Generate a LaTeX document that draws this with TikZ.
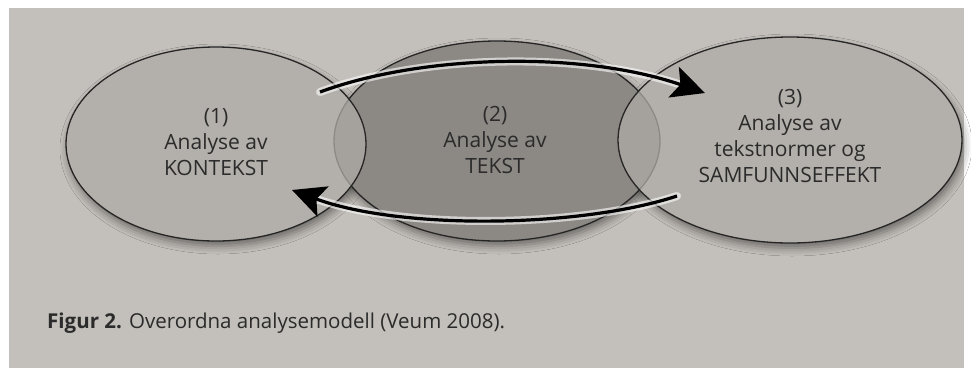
\documentclass[tikz,border=0pt]{standalone}
\usepackage{fontspec}
\setmainfont{Open Sans}
\usetikzlibrary{arrows.meta,shapes.geometric,shadows.blur}
\definecolor{bgc}{HTML}{C3BFBA}
\definecolor{midc}{HTML}{8C8884}
\definecolor{sidec}{HTML}{AEAAA5}
\definecolor{txtc}{HTML}{2B2B2B}
\begin{document}
\begin{tikzpicture}[x=1pt,y=-1pt,
  bubble/.style={ellipse, draw=black!85, line width=1.3pt, inner sep=0pt},
  shade0/.style={ellipse, inner sep=0pt, fill=bgc,
     blur shadow={shadow xshift=2pt, shadow yshift=-5pt, shadow blur radius=8pt, shadow opacity=45}},
  lbl/.style={align=center, text=txtc, font=\fontsize{21}{26}\selectfont},
  halo/.style={draw=white, opacity=0.6, line width=8pt, line cap=round},
  flow/.style={draw=black, line width=3.2pt, -{Stealth[length=33pt,width=32pt,inset=7pt]}}]
\useasboundingbox (0,0) rectangle (971,376);
\fill[white] (0,0) rectangle (971,376);
\fill[bgc] (9,8) rectangle (964,368);
% shadows
\node[shade0, minimum width=326pt, minimum height=200pt] (s2) at (497,141) {};
\node[shade0, minimum width=300pt, minimum height=194pt] (s1) at (216,144) {};
\node[shade0, minimum width=344pt, minimum height=206pt] (s3) at (790,140) {};
% ellipses
\node[bubble, fill=midc, minimum width=326pt, minimum height=200pt] (e2) at (497,141) {};
\node[bubble, fill=sidec, fill opacity=0.76, minimum width=300pt, minimum height=194pt] (e1) at (216,144) {};
\node[bubble, fill=sidec, fill opacity=0.76, minimum width=344pt, minimum height=206pt] (e3) at (790,140) {};
% labels
\node[lbl] (t1) at (216,142) {(1)\\Analyse av\\KONTEKST};
\node[lbl] (t2) at (495,140) {(2)\\Analyse av\\TEKST};
\node[lbl] (t3) at (790,136) {(3)\\Analyse av\\tekstnormer og\\SAMFUNNSEFFEKT};
% arrows
\coordinate (a1s) at (320,92);
\coordinate (a1e) at (705,93);
\coordinate (a2s) at (677,196);
\coordinate (a2e) at (292,190);
\path[halo, shorten >=22pt] (a1s) .. controls (420,55) and (580,50) .. (a1e);
\path[flow] (a1s) .. controls (420,55) and (580,50) .. (a1e);
\path[halo, shorten >=22pt] (a2s) .. controls (580,228) and (400,230) .. (a2e);
\path[flow] (a2s) .. controls (580,228) and (400,230) .. (a2e);
% caption
\node[anchor=base west, inner sep=0pt, text=txtc, font=\fontsize{20.5}{24}\selectfont] (cap) at (47,328)
  {\textbf{Figur 2.} Overordna analysemodell (Veum 2008).};
\end{tikzpicture}
\end{document}
